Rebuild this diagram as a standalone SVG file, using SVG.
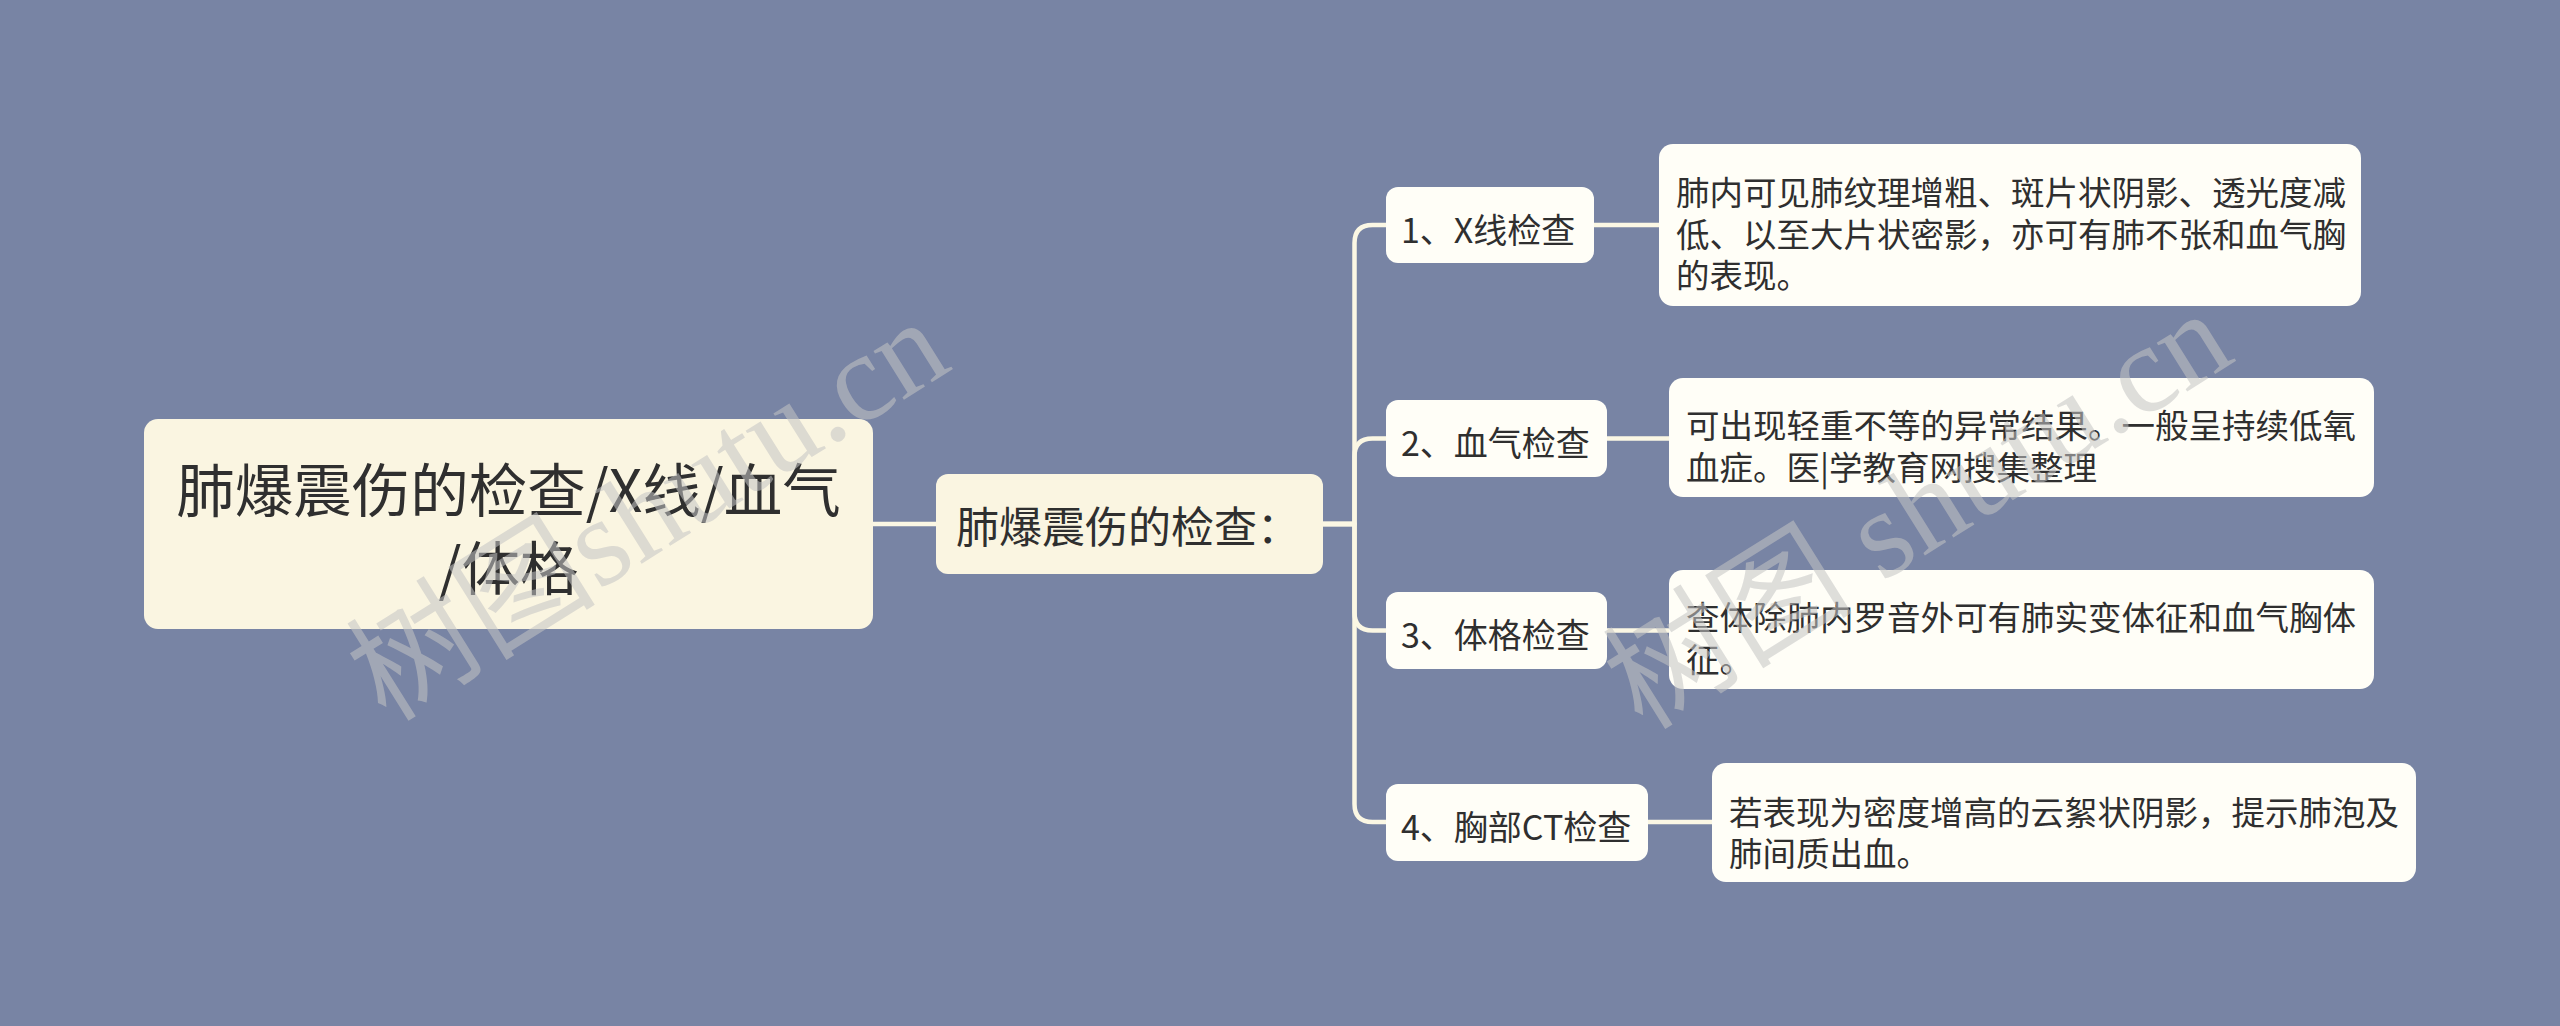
<svg xmlns="http://www.w3.org/2000/svg" width="2560" height="1026" viewBox="0 0 2560 1026">
<style>
.bg{fill:#7884A4}
.rootbox{fill:#FAF5E1}
.mainbox{fill:#FAF5E1}
.box{fill:#FFFEF7}
.t{font-family:"Noto Sans CJK SC","Noto Sans",sans-serif;fill:#2f2f2f;dominant-baseline:central}
.troot{font-size:58.5px;text-anchor:middle}
.tmain{font-size:43px}
.tc{font-size:33.5px}
.tn{font-size:34px}
.conn{fill:none;stroke:#FBF7E4;stroke-width:4.5;stroke-linecap:round;stroke-linejoin:round}
.wm{font-family:"Liberation Serif","Noto Sans CJK SC",serif;font-size:125px;fill:#c4c4c4;opacity:0.55;text-anchor:middle;dominant-baseline:central}
</style>
<rect class="bg" x="0" y="0" width="2560" height="1026"/>
<g id="connectors">
<path class="conn" d="M873,524 H936"/>
<path class="conn" d="M1323,524 H1354.5 V243 Q1354.5,225 1372.5,225 H1386"/>
<path class="conn" d="M1323,524 H1354.5 V456.5 Q1354.5,438.5 1372.5,438.5 H1386"/>
<path class="conn" d="M1323,524 H1354.5 V612.5 Q1354.5,630.5 1372.5,630.5 H1386"/>
<path class="conn" d="M1323,524 H1354.5 V804 Q1354.5,822 1372.5,822 H1386"/>
<path class="conn" d="M1594,225 H1659"/>
<path class="conn" d="M1607,438.5 H1669"/>
<path class="conn" d="M1607,630.5 H1669"/>
<path class="conn" d="M1648,822 H1712"/>
</g>
<g id="root">
<rect class="rootbox" x="144" y="419" width="729" height="210" rx="14"/>
<text class="t troot" x="508.5" y="486">肺爆震伤的检查/X线/血气</text>
<text class="t troot" x="508.5" y="564">/体格</text>
</g>
<g id="main">
<rect class="mainbox" x="936" y="474" width="387" height="100" rx="12"/>
<text class="t tmain" x="956" y="524">肺爆震伤的检查：</text>
</g>
<g id="c1">
<rect class="box" x="1386" y="187" width="208" height="76" rx="12"/>
<text class="t tn" x="1401" y="228">1、X线检查</text>
</g>
<g id="c2">
<rect class="box" x="1386" y="400" width="221" height="77" rx="12"/>
<text class="t tn" x="1401" y="441.5">2、血气检查</text>
</g>
<g id="c3">
<rect class="box" x="1386" y="592" width="221" height="77" rx="12"/>
<text class="t tn" x="1401" y="633.5">3、体格检查</text>
</g>
<g id="c4">
<rect class="box" x="1386" y="784" width="262" height="77" rx="12"/>
<text class="t tn" x="1401" y="825">4、胸部CT检查</text>
</g>
<g id="l1">
<rect class="box" x="1659" y="144" width="702" height="162" rx="14"/>
<text class="t tc" x="1676" y="190.5">肺内可见肺纹理增粗、斑片状阴影、透光度减</text>
<text class="t tc" x="1676" y="232">低、以至大片状密影，亦可有肺不张和血气胸</text>
<text class="t tc" x="1676" y="273.5">的表现。</text>
</g>
<g id="l2">
<rect class="box" x="1669" y="378" width="705" height="119" rx="14"/>
<text class="t tc" x="1686" y="423">可出现轻重不等的异常结果。一般呈持续低氧</text>
<text class="t tc" x="1686" y="465">血症。医|学教育网搜集整理</text>
</g>
<g id="l3">
<rect class="box" x="1669" y="570" width="705" height="119" rx="14"/>
<text class="t tc" x="1686" y="615">查体除肺内罗音外可有肺实变体征和血气胸体</text>
<text class="t tc" x="1686" y="657">征。</text>
</g>
<g id="l4">
<rect class="box" x="1712" y="763" width="704" height="119" rx="14"/>
<text class="t tc" x="1729" y="810">若表现为密度增高的云絮状阴影，提示肺泡及</text>
<text class="t tc" x="1729" y="851">肺间质出血。</text>
</g>
<g id="watermark">
<text class="wm" transform="translate(648,510) rotate(-32)">树图shutu.cn</text>
<text class="wm" transform="translate(1918,510) rotate(-32)">树图 shutu.cn</text>
</g>
</svg>
